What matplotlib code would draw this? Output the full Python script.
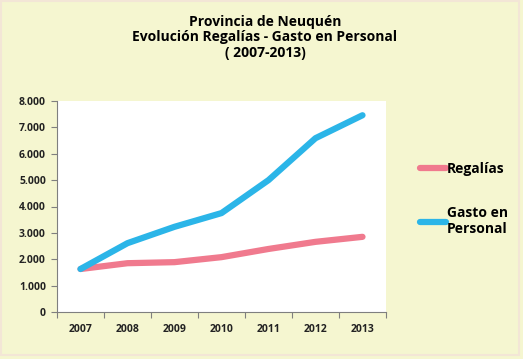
import matplotlib.pyplot as plt
from matplotlib.patches import Rectangle

years = ["2007", "2008", "2009", "2010", "2011", "2012", "2013"]
regalias = [1630, 1850, 1890, 2080, 2390, 2660, 2850]
gasto_personal = [1630, 2610, 3230, 3750, 5000, 6590, 7460]
y_ticks = [0, 1000, 2000, 3000, 4000, 5000, 6000, 7000, 8000]
y_tick_labels = ["0", "1.000", "2.000", "3.000", "4.000", "5.000", "6.000", "7.000", "8.000"]

BG = "#F5F6D0"
PINK = "#F07A8E"
BLUE = "#2BB5E8"
W, H = 523, 359

plt.rcParams["font.family"] = ["Open Sans", "DejaVu Sans"]

fig = plt.figure(figsize=(W / 100, H / 100), dpi=100)
fig.patch.set_facecolor(BG)
# faint outer border like the original chart frame
fig.add_artist(Rectangle((0.5 / W, 1 - 355 / H), 518 / W, 354.5 / H,
                         transform=fig.transFigure, fill=False,
                         edgecolor="#F3E6D6", linewidth=1.5))

# plot area in pixel coordinates: x 57..386, y 101..312
ax = fig.add_axes([57 / W, 1 - 312 / H, (386 - 57) / W, (312 - 101) / H])
ax.set_facecolor("white")
ax.set_zorder(2)

x = range(len(years))
ax.plot(x, regalias, color=PINK, linewidth=4.5, solid_capstyle="round", label="Regalías")
ax.plot(x, gasto_personal, color=BLUE, linewidth=4.5, solid_capstyle="round",
        label="Gasto en\nPersonal")

ax.set_xlim(-0.5, len(years) - 0.5)
ax.set_ylim(0, 8000)
ax.set_yticks(y_ticks)
ax.set_yticklabels(y_tick_labels)
ax.set_xticks(x)
ax.set_xticklabels(years)
ax.set_xticks([i - 0.5 for i in range(len(years) + 1)], minor=True)

for s in ["top", "right"]:
    ax.spines[s].set_visible(False)
for s in ["left", "bottom"]:
    ax.spines[s].set_color("#7F7F7F")
    ax.spines[s].set_linewidth(0.8)

ax.tick_params(axis="y", length=4, width=0.8, color="#7F7F7F", labelsize=7.5, pad=4)
ax.tick_params(axis="x", which="major", length=0, labelsize=7.5, pad=9)
ax.tick_params(axis="x", which="minor", length=4, width=0.8, color="#7F7F7F")
for lbl in ax.get_xticklabels() + ax.get_yticklabels():
    lbl.set_fontweight("bold")
    lbl.set_color("#222222")

fig.text(265 / W, 1 - 15 / H, "Provincia de Neuquén\nEvolución Regalías - Gasto en Personal\n( 2007-2013)",
         ha="center", va="top", fontsize=10, fontweight="bold", linespacing=1.12)

leg = ax.legend(loc="upper left", bbox_to_anchor=(407 / W, 1 - 149 / H),
                bbox_transform=fig.transFigure, frameon=False,
                handlelength=1.9, handletextpad=0.05, labelspacing=2.2,
                prop={"weight": "bold", "size": 10})

fig.savefig("out.png", dpi=100, facecolor=fig.get_facecolor())
